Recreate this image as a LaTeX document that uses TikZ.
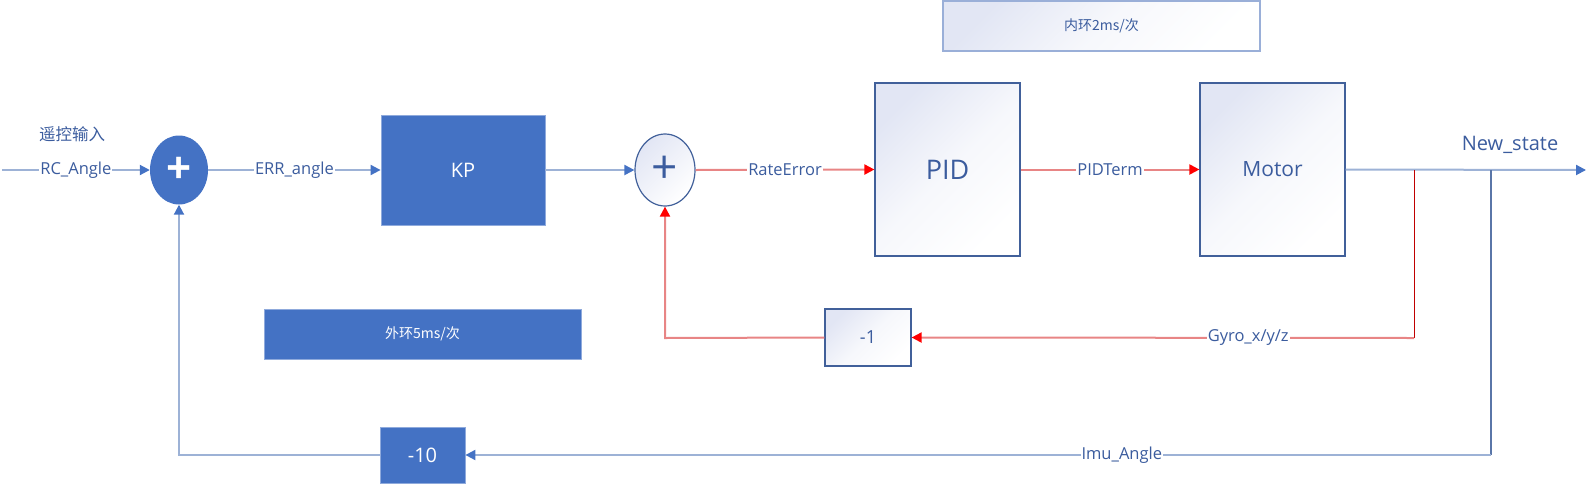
\documentclass[tikz,border=0pt]{standalone}
\usepackage{fontspec}
\setmainfont{Open Sans}
\newfontfamily\cjk{Noto Sans CJK SC}
\usetikzlibrary{arrows.meta,shapes.geometric}
\definecolor{fillblue}{HTML}{4472C4}
\definecolor{lineblue}{HTML}{9DB2D6}
\definecolor{tipblue}{HTML}{4472C4}
\definecolor{darkline}{HTML}{5A76A8}
\definecolor{edgeblue}{HTML}{41609A}
\definecolor{txtblue}{HTML}{3B5C9E}
\definecolor{lightred}{HTML}{E88585}
\definecolor{tipred}{HTML}{FF0000}
\definecolor{darkred}{HTML}{C00000}
\definecolor{lav}{HTML}{E2E6F4}
\definecolor{titleedge}{HTML}{9AAFD8}
\tikzset{
  fsz/.style={font=\fontsize{#1}{#1}\selectfont},
  solidbox/.style={rectangle, fill=fillblue, draw=fillblue!60!white, line width=0.8pt, text=white, inner sep=0pt},
  gradbox/.style={rectangle, draw=edgeblue, line width=1.2pt, top color=lav, bottom color=white, middle color=lav!30!white, shading angle=45, text=txtblue, inner sep=0pt},
  conn/.style={draw=lineblue, line width=2pt, -{Triangle[length=10pt,width=10pt,color=tipblue]}},
  rconn/.style={draw=lightred, line width=2pt, -{Triangle[length=10pt,width=10pt,color=tipred]}},
  lbl/.style={fill=white, inner sep=1pt, text=txtblue, fsz=16.5},
}
\begin{document}
\begin{tikzpicture}[x=1pt,y=-1pt]
\useasboundingbox (0,0) rectangle (1586,485);
% nodes
\coordinate (in) at (2,170);
\node[ellipse, fill=fillblue, minimum width=58pt, minimum height=69pt, inner sep=0pt, text=white, font=\bfseries\fontsize{44}{44}\selectfont] (c1) at (179,170) {+};
\node[solidbox, minimum width=164pt, minimum height=110pt, fsz=20] (kp) at (463,170) {KP};
\node[ellipse, draw=edgeblue, line width=1.2pt, top color=lav, bottom color=white, shading angle=45, minimum width=60pt, minimum height=72pt, inner sep=0pt, text=txtblue, fsz=46] (c2) at (665,170) {+};
\node[gradbox, minimum width=145pt, minimum height=173pt, fsz=27] (pid) at (947.5,169.5) {PID};
\node[gradbox, minimum width=145pt, minimum height=173pt, fsz=21] (motor) at (1272.5,169.5) {Motor};
\node[gradbox, draw=titleedge, line width=1.6pt, minimum width=317pt, minimum height=50pt, font=\cjk\fontsize{14}{14}\selectfont] (inner) at (1101.5,26) {内环2ms/次};
\node[solidbox, minimum width=317pt, minimum height=50pt, font=\cjk\fontsize{14}{14}\selectfont] (outer) at (422.5,334) {外环5ms/次};
\node[gradbox, minimum width=86pt, minimum height=57pt, fsz=18] (m1) at (868,337.5) {-1};
\node[solidbox, minimum width=85pt, minimum height=56pt, fsz=20] (m10) at (422.5,455) {-10};
\node[text=txtblue, font=\cjk\fontsize{16.5}{16.5}\selectfont] (rcin) at (72,134) {遥控输入};
\node[text=txtblue, fsz=20] (newst) at (1510,145) {New\_state};
\coordinate (j1) at (1414,170);
\coordinate (j1b) at (1414,338);
\coordinate (j2) at (1491,170);
\coordinate (j2b) at (1491,455);
\coordinate (out) at (1586,170);
\coordinate (r1) at (665,338);
\coordinate (b1) at (179,455);
% connectors
\draw[conn] (in) -- node[lbl]{RC\_Angle} (c1.west);
\draw[conn] (c1.east) -- node[lbl]{ERR\_angle} (kp.west);
\draw[conn] (kp.east) -- (c2.west);
\draw[rconn] (c2.east) -- node[lbl]{RateError} (pid.west);
\draw[rconn] (pid.east) -- node[lbl]{PIDTerm} (motor.west);
\draw[conn] (motor.east) -- (out);
\draw[draw=darkred, line width=1pt] (j1) -- (j1b);
\draw[rconn] (j1b) -- node[lbl, pos=0.33]{Gyro\_x/y/z} (m1.east);
\draw[rconn] (m1.west) -- (r1) -- (c2.south);
\draw[draw=darkline, line width=1.2pt] (j2) -- (j2b);
\draw[conn] (j2b) -- node[lbl, pos=0.36]{Imu\_Angle} (m10.east);
\draw[conn] (m10.west) -- (b1) -- (c1.south);
\end{tikzpicture}
\end{document}
